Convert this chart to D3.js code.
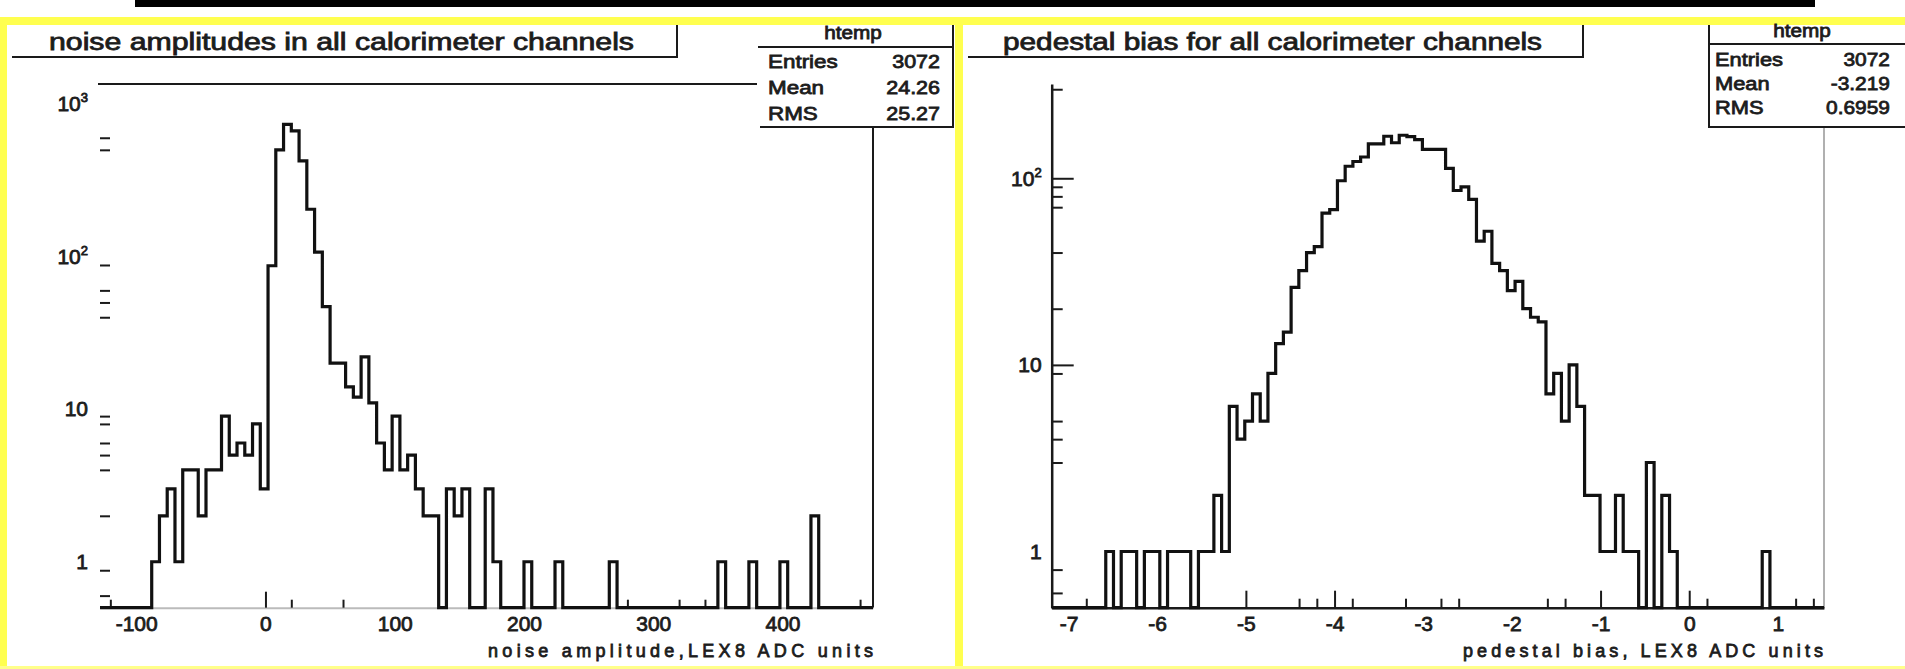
<!DOCTYPE html>
<html>
<head>
<meta charset="utf-8">
<script src="https://cdn.jsdelivr.net/npm/d3@7"></script>
<style>
  html, body { margin: 0; padding: 0; background: #fff; }
  svg { display: block; }
  text { font-family: 'Liberation Sans', Arial, sans-serif; fill: #1c1c1c; stroke: #1c1c1c; stroke-width: 0.8px; }
</style>
</head>
<body>
<svg id="chart" width="1905" height="669"></svg>
<script>
// noise amplitude histogram (bins of 6 ADC units starting at -124)
const noiseBinStart = -124;
const noiseBinWidth = 6;
const noiseCounts = [
  0, 0, 0, 0, 0, 0,
  1, 2, 3, 1, 4, 4, 2, 4, 4, 9, 5, 6, 5, 8, 3,
  87, 500, 735, 665, 423, 204, 107, 47, 20, 20,
  14, 12, 22, 11, 6, 4, 9, 4, 5, 3, 2, 2,
  0, 3, 2, 3, 0, 0, 3, 1, 0, 0, 0, 1, 0, 0, 0, 1,
  0, 0, 0, 0, 0, 0, 1,
  0, 0, 0, 0, 0, 0, 0, 0, 0, 0, 0, 0, 0, 1,
  0, 0, 0, 1, 0, 0, 0, 1, 0, 0, 0, 2,
  0, 0, 0, 0, 0, 0, 0
];

// pedestal bias histogram (100 bins from -7.19 to 1.52)
const biasBinStart = -7.19;
const biasBinWidth = 0.0871;
const biasCounts = [
  0, 0, 0, 0, 0, 0, 0, 1, 0, 1, 1, 0, 1, 1, 0, 1, 1, 1, 0, 1,
  1, 2, 1, 6, 4, 5, 7, 5,
  9, 13, 15, 26, 32, 40, 43, 65, 68, 97, 116, 123, 130,
  153, 153, 168, 155, 170, 167, 161, 143, 143, 143,
  113, 86, 90, 77, 46, 52, 35, 32, 25, 28, 20, 18, 17,
  7, 9, 5, 10, 6, 2, 2, 1, 1, 2, 1, 1, 0, 3, 0, 2, 1,
  0, 0, 0, 0, 0, 0, 0, 0, 0, 0, 0, 1,
  0, 0, 0, 0, 0, 0, 0
];

const noiseXLabels = [-100, 0, 100, 200, 300, 400];
const noiseXMajor = [0];
const noiseXMinor = [-120, 20, 60, 280, 320, 340, 460];
const noiseYLabels = [1000, 100, 10, 1];
const noiseYTicks = [600, 500, 88, 60, 50, 40, 9, 8, 6, 5, 4, 2, 0.88, 0.6];

const biasXLabels = [-7, -6, -5, -4, -3, -2, -1, 0, 1];
const biasXMajor = [-5, -4, -1, 0];
const biasXMinor = [-6.8, -4.4, -4.2, -3.8, -3.2, -2.8, -2.6, -1.6, -1.4, 0.2, 1.2, 1.4];
const biasYLabels = [100, 10, 1];
const biasYMajor = [100, 10];
const biasYMinor = [300, 90, 80, 70, 40, 20, 9, 5, 4, 3, 0.8, 0.6];

const noiseStats = [['Entries', '3072'], ['Mean', '24.26'], ['RMS', '25.27']];
const biasStats = [['Entries', '3072'], ['Mean', '-3.219'], ['RMS', '0.6959']];

const noiseTitle = 'noise amplitudes in all calorimeter channels';
const biasTitle = 'pedestal bias for all calorimeter channels';
const noiseXTitle = 'noise amplitude,LEX8 ADC units';
const biasXTitle = 'pedestal bias, LEX8 ADC units';

const svg = d3.select('#chart');
const BOTTOM = 607.7;

// page decoration
svg.append('rect').attr('x', 135).attr('y', 0).attr('width', 1680).attr('height', 7).attr('fill', '#000');
svg.append('rect').attr('x', 0).attr('y', 17).attr('width', 1905).attr('height', 8).attr('fill', '#ffff4f');
svg.append('rect').attr('x', 0).attr('y', 17).attr('width', 7).attr('height', 652).attr('fill', '#ffff4f');
svg.append('rect').attr('x', 955).attr('y', 17).attr('width', 8).attr('height', 652).attr('fill', '#ffff4f');
svg.append('rect').attr('x', 0).attr('y', 666).attr('width', 1905).attr('height', 3).attr('fill', '#ffff8a');

const noiseX = d3.scaleLinear().domain([-128, 470]).range([100, 873]);
const noiseY = d3.scaleLog().domain([0.5, 1350]).range([BOTTOM, 84]);
const biasX = d3.scaleLinear().domain([-7.19, 1.52]).range([1051.7, 1824]);
const biasY = d3.scaleLog().domain([0.5, 320]).range([BOTTOM, 84]);

const hyphen = d => String(d).replace('\u2212', '-');

const line = (x1, y1, x2, y2, color, w) =>
  svg.append('line').attr('x1', x1).attr('y1', y1).attr('x2', x2).attr('y2', y2)
    .attr('stroke', color || '#1a1a1a').attr('stroke-width', w || 2);

const stretch = (sel, k) => sel.each(function () {
  const w = this.getComputedTextLength();
  d3.select(this).attr('textLength', w * k).attr('lengthAdjust', 'spacingAndGlyphs');
});

const histPath = (counts, start, width, x, y) => {
  const pts = [[x.range()[0], BOTTOM]];
  counts.forEach((c, i) => {
    const yy = c > 0 ? y(c) : BOTTOM;
    pts.push([x(start + i * width), yy]);
    pts.push([x(start + (i + 1) * width), yy]);
  });
  pts.push([x(start + counts.length * width), BOTTOM]);
  return d3.line()(pts);
};

const supLabel = (sel) => sel.each(function (d) {
  const t = d3.select(this).text('');
  if (d >= 100) {
    t.append('tspan').text('10');
    t.append('tspan').attr('dy', -9).attr('font-size', 13).text(Math.round(Math.log10(d)));
  } else {
    t.text(d);
  }
});

const styleAxis = (g, size) => {
  g.attr('font-family', null).attr('font-size', size);
  g.selectAll('.tick line').attr('stroke', '#1a1a1a').attr('stroke-width', 2);
  g.selectAll('text').attr('fill', '#1c1c1c');
};

// ---------- left panel: noise amplitudes ----------
// frame
line(98, 84, 757, 84);
line(873, 127, 873, BOTTOM);

let g = svg.append('g').attr('transform', `translate(0,${BOTTOM})`)
  .call(d3.axisBottom(noiseX).tickValues(noiseXMajor).tickSize(-16).tickSizeOuter(0).tickFormat(''));
styleAxis(g, 21);
g.select('.domain').attr('stroke', '#bbb').attr('stroke-width', 2);

g = svg.append('g').attr('transform', `translate(0,${BOTTOM})`)
  .call(d3.axisBottom(noiseX).tickValues(noiseXMinor).tickSize(-8).tickSizeOuter(0).tickFormat(''));
styleAxis(g, 21);
g.select('.domain').remove();

g = svg.append('g').attr('transform', `translate(0,${BOTTOM})`)
  .call(d3.axisBottom(noiseX).tickValues(noiseXLabels).tickSize(0).tickPadding(8).tickFormat(hyphen));
styleAxis(g, 21);
g.select('.domain').remove();

g = svg.append('g').attr('transform', 'translate(100,0)')
  .call(d3.axisRight(noiseY).tickValues(noiseYTicks).tickSize(10).tickSizeOuter(0).tickFormat(''));
styleAxis(g, 21);
g.select('.domain').remove();

g = svg.append('g').attr('transform', 'translate(100,0)')
  .call(d3.axisLeft(noiseY).tickValues(noiseYLabels).tickSize(0).tickPadding(12));
styleAxis(g, 21);
g.select('.domain').remove();
g.selectAll('.tick text').call(supLabel);

svg.append('path')
  .attr('d', histPath(noiseCounts, noiseBinStart, noiseBinWidth, noiseX, noiseY))
  .attr('fill', 'none').attr('stroke', '#111').attr('stroke-width', 3.2)
  .attr('stroke-linejoin', 'miter');

svg.append('text').attr('x', 873).attr('y', 657).attr('text-anchor', 'end')
  .attr('font-size', 18).attr('textLength', 385).attr('lengthAdjust', 'spacing')
  .text(noiseXTitle);

// title box
line(12, 57, 677, 57);
line(677, 25, 677, 58);
svg.append('text').attr('x', 49).attr('y', 50).attr('font-size', 23)
  .attr('textLength', 585).attr('lengthAdjust', 'spacingAndGlyphs').text(noiseTitle);

// stats box
line(758, 47, 953, 47);
line(760, 127, 953, 127);
line(953, 25, 953, 128);
svg.append('text').attr('x', 853).attr('y', 39).attr('font-size', 18).attr('text-anchor', 'middle')
  .text('htemp').call(stretch, 1.15);
noiseStats.forEach((s, i) => {
  svg.append('text').attr('x', 768).attr('y', 68 + i * 26).attr('font-size', 19).text(s[0]).call(stretch, 1.18);
  svg.append('text').attr('x', 940).attr('y', 68 + i * 26).attr('font-size', 19).attr('text-anchor', 'end')
    .text(s[1]).call(stretch, 1.13);
});

// ---------- right panel: pedestal bias ----------
line(1824, 127, 1824, BOTTOM, '#b0b0b0', 2);

g = svg.append('g').attr('transform', `translate(0,${BOTTOM})`)
  .call(d3.axisBottom(biasX).tickValues(biasXMajor).tickSize(-17).tickSizeOuter(0).tickFormat(''));
styleAxis(g, 21);
g.select('.domain').attr('stroke', '#1a1a1a').attr('stroke-width', 2.5);

g = svg.append('g').attr('transform', `translate(0,${BOTTOM})`)
  .call(d3.axisBottom(biasX).tickValues(biasXMinor).tickSize(-9).tickSizeOuter(0).tickFormat(''));
styleAxis(g, 21);
g.select('.domain').remove();

g = svg.append('g').attr('transform', `translate(0,${BOTTOM})`)
  .call(d3.axisBottom(biasX).tickValues(biasXLabels).tickSize(0).tickPadding(8).tickFormat(hyphen));
styleAxis(g, 21);
g.select('.domain').remove();

g = svg.append('g').attr('transform', 'translate(1051.7,0)')
  .call(d3.axisRight(biasY).tickValues(biasYMajor).tickSize(22).tickSizeOuter(0).tickFormat(''));
styleAxis(g, 21);
g.select('.domain').attr('stroke', '#1a1a1a').attr('stroke-width', 2.5);

g = svg.append('g').attr('transform', 'translate(1051.7,0)')
  .call(d3.axisRight(biasY).tickValues(biasYMinor).tickSize(11).tickSizeOuter(0).tickFormat(''));
styleAxis(g, 21);
g.select('.domain').remove();

g = svg.append('g').attr('transform', 'translate(1051.7,0)')
  .call(d3.axisLeft(biasY).tickValues(biasYLabels).tickSize(0).tickPadding(10));
styleAxis(g, 21);
g.select('.domain').remove();
g.selectAll('.tick text').call(supLabel);

svg.append('path')
  .attr('d', histPath(biasCounts, biasBinStart, biasBinWidth, biasX, biasY))
  .attr('fill', 'none').attr('stroke', '#111').attr('stroke-width', 3.2)
  .attr('stroke-linejoin', 'miter');

svg.append('text').attr('x', 1823).attr('y', 657).attr('text-anchor', 'end')
  .attr('font-size', 18).attr('textLength', 360).attr('lengthAdjust', 'spacing')
  .text(biasXTitle);

// title box
line(968, 57, 1583, 57);
line(1583, 25, 1583, 58);
svg.append('text').attr('x', 1003).attr('y', 50).attr('font-size', 23)
  .attr('textLength', 539).attr('lengthAdjust', 'spacingAndGlyphs').text(biasTitle);

// stats box
line(1709, 25, 1709, 128);
line(1709, 44, 1905, 44);
line(1709, 127, 1905, 127);
svg.append('text').attr('x', 1802).attr('y', 37).attr('font-size', 18).attr('text-anchor', 'middle')
  .text('htemp').call(stretch, 1.15);
biasStats.forEach((s, i) => {
  svg.append('text').attr('x', 1715).attr('y', 66 + i * 24).attr('font-size', 19).text(s[0]).call(stretch, 1.15);
  svg.append('text').attr('x', 1890).attr('y', 66 + i * 24).attr('font-size', 19).attr('text-anchor', 'end')
    .text(s[1]).call(stretch, 1.1);
});
</script>
</body>
</html>
